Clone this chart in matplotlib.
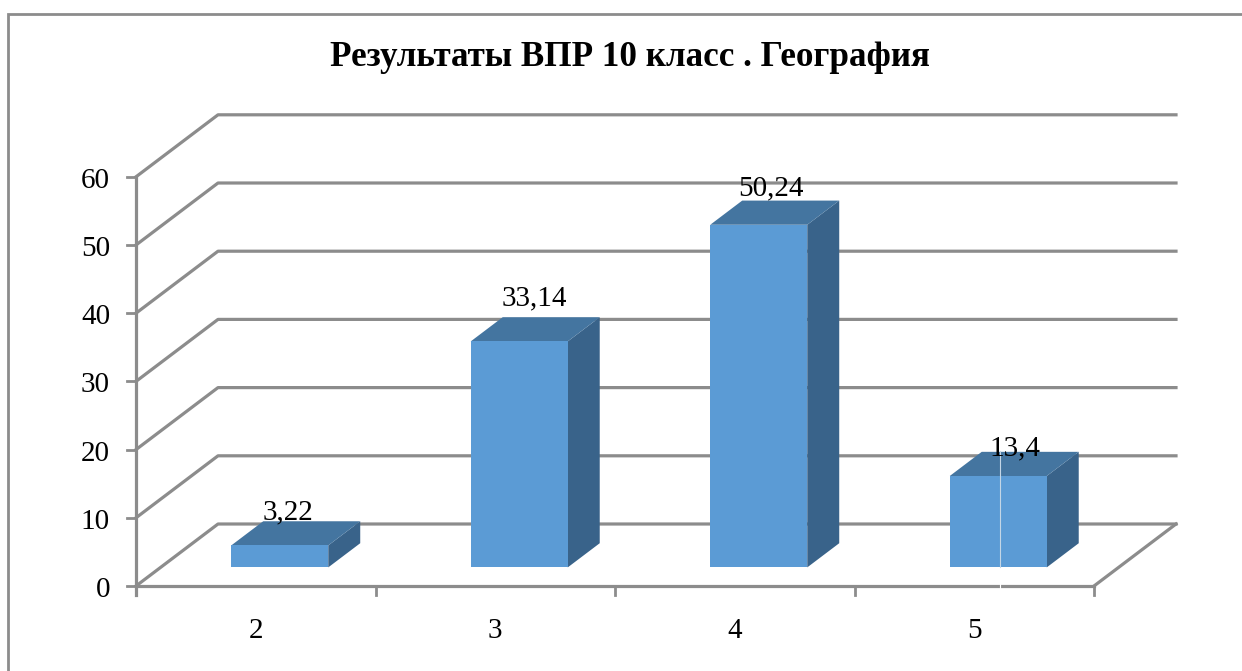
import matplotlib.pyplot as plt

categories = ['2', '3', '4', '5']
values = [3.22, 33.14, 50.24, 13.4]
value_labels = ['3,22', '33,14', '50,24', '13,4']
y_ticks = [0, 10, 20, 30, 40, 50, 60]
title = 'Результаты ВПР 10 класс . География'

GRID = '#8c8c8c'
FRONT = '#5b9bd5'
TOP = '#4475a0'
SIDE = '#39638a'

plt.rcParams['font.family'] = ['Liberation Serif', 'DejaVu Serif']

# pixel size of one category / one unit of value in the reference
W, H = 1242, 671
X0, Y0 = 136, 586
CAT_PX = 239.5
VAL_PX = 6.82
DEPTH_X = 82 / CAT_PX
DEPTH_Y = 62 / VAL_PX

fig = plt.figure(figsize=(W / 100, H / 100), dpi=100)
ax = fig.add_axes([0, 0, 1, 1])
ax.set_xlim(-X0 / CAT_PX, (W - X0) / CAT_PX)
ax.set_ylim((Y0 - H) / VAL_PX, Y0 / VAL_PX)
ax.axis('off')


def depth(x, v, d):
    return x + d * DEPTH_X, v + d * DEPTH_Y


def px(x, y):
    return (x - X0) / CAT_PX, (Y0 - y) / VAL_PX


n = len(categories)

# outer frame (left and top only)
ax.plot(*zip(px(8, H), px(8, 14), px(W, 14)), color=GRID, lw=2, solid_joinstyle='miter')

# grid: side wall + back wall
for t in y_ticks:
    a = depth(0, t, 0)
    b = depth(0, t, 1)
    c = depth(n, t, 1)
    ax.plot(*zip(a, b, c), color=GRID, lw=2.3, solid_joinstyle='round')
    ax.plot([-9 / CAT_PX, 0], [t, t], color=GRID, lw=2)
    ax.text(-26 / CAT_PX, t - 4 / VAL_PX, str(t), ha='right', va='center', fontsize=21, color='k')

# floor front edge, right edge, axis lines and ticks
ax.plot([0, n], [0, 0], color=GRID, lw=2.3)
ax.plot(*zip(depth(n, 0, 0), depth(n, 0, 1)), color=GRID, lw=2.3)
ax.plot([0, 0], [y_ticks[0] - 9 / VAL_PX, y_ticks[-1]], color=GRID, lw=2.3)
for i in range(1, n + 1):
    ax.plot([i, i], [0, -9 / VAL_PX], color=GRID, lw=2)

# bars
half = 48.5 / CAT_PX
shift = 24 / CAT_PX
d_front, d_back = 0.3, 0.69
label_dx = [8, 15, 12, 17]
label_dy = [9, 19, 12, 3]

for i, v in enumerate(values):
    cx = i + 0.5 + shift - d_front * DEPTH_X
    l, r = cx - half, cx + half
    fl0 = depth(l, 0, d_front)
    fr0 = depth(r, 0, d_front)
    fl1 = depth(l, v, d_front)
    fr1 = depth(r, v, d_front)
    bl1 = depth(l, v, d_back)
    br1 = depth(r, v, d_back)
    br0 = depth(r, 0, d_back)
    ax.fill(*zip(fr0, br0, br1, fr1), color=SIDE, lw=0, zorder=3)
    ax.fill(*zip(fl1, fr1, br1, bl1), color=TOP, lw=0, zorder=3)
    ax.fill(*zip(fl0, fr0, fr1, fl1), color=FRONT, lw=0, zorder=3)
    lx = (fl0[0] + fr0[0]) / 2 + label_dx[i] / CAT_PX
    ly = bl1[1] + label_dy[i] / VAL_PX
    ax.text(lx, ly, value_labels[i], ha='center', va='center', fontsize=21, color='k', zorder=4)
    ax.text(i + 0.5, -45 / VAL_PX, categories[i], ha='center', va='center', fontsize=21, color='k')

# thin light seam through the last bar in the reference
ax.plot(*zip(px(1000, 451), px(1000, 567)), color='#c4d6e6', lw=0.8, zorder=3.5)
ax.plot(*zip(px(1000, 583), px(1000, 589)), color='white', lw=0.8, zorder=3.5)

ax.text(*px(630, 58), title, ha='center', va='center', fontsize=25.3, fontweight='bold', color='k')

fig.savefig('out.png', dpi=100, facecolor='white')
